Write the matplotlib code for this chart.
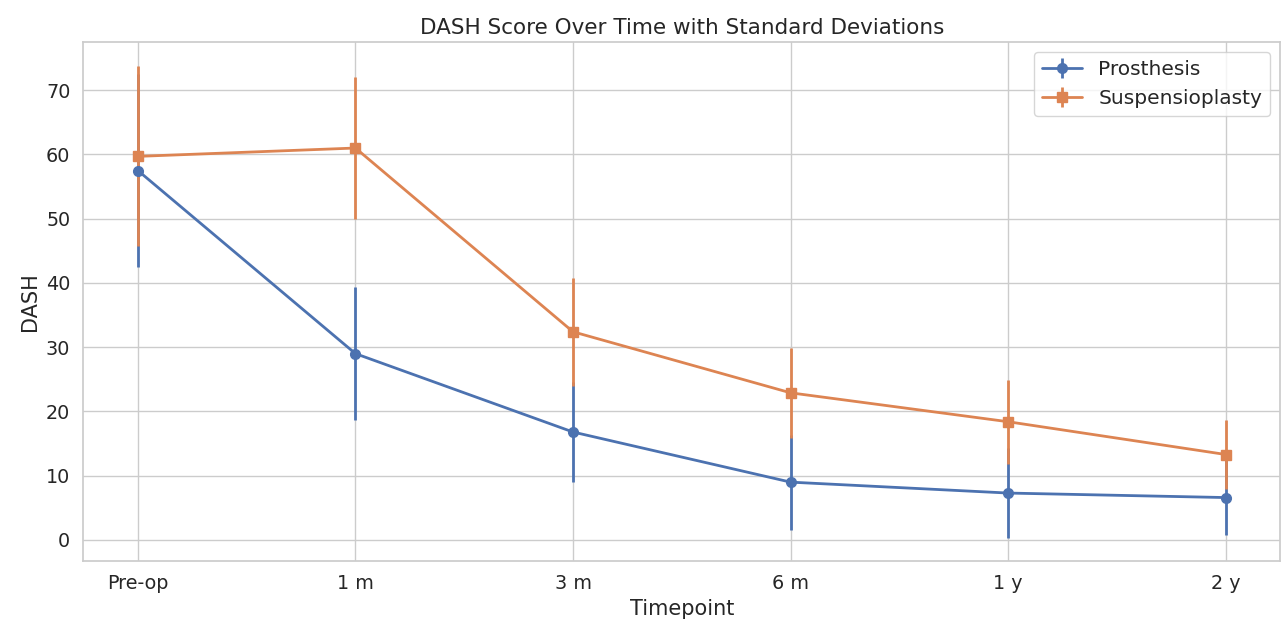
import matplotlib

matplotlib.use("Agg")
import matplotlib.pyplot as plt
import seaborn as sns

timepoints = ["Pre-op", "1 m", "3 m", "6 m", "1 y", "2 y"]

prosthesis_mean = [57.5, 29.0, 16.8, 9.0, 7.3, 6.6]
prosthesis_sd = [15.0, 10.4, 7.8, 7.4, 7.0, 5.8]

suspensio_mean = [59.7, 61.0, 32.4, 22.9, 18.4, 13.3]
suspensio_sd = [14.0, 11.0, 8.4, 7.0, 6.5, 5.3]

sns.set_theme(style="whitegrid", font_scale=1.25)
palette = sns.color_palette()

fig, ax = plt.subplots(figsize=(12.84, 6.27), dpi=100)
x = range(len(timepoints))

ax.errorbar(x, prosthesis_mean, yerr=prosthesis_sd, fmt="-o", color=palette[0],
            label="Prosthesis", linewidth=2, markersize=7, elinewidth=2, capsize=0)
ax.errorbar(x, suspensio_mean, yerr=suspensio_sd, fmt="-s", color=palette[1],
            label="Suspensioplasty", linewidth=2, markersize=7, elinewidth=2, capsize=0)

ax.set_xticks(list(x))
ax.set_xticklabels(timepoints)
ax.set_ylim(-3.3, 77.5)
ax.set_xlabel("Timepoint")
ax.set_ylabel("DASH")
ax.set_title("DASH Score Over Time with Standard Deviations", fontsize=15.5)
ax.legend(loc="upper right", fontsize=14.5)

plt.subplots_adjust(left=0.065, right=0.997, top=0.933, bottom=0.105)
plt.savefig("out.png", dpi=100)
plt.close(fig)
